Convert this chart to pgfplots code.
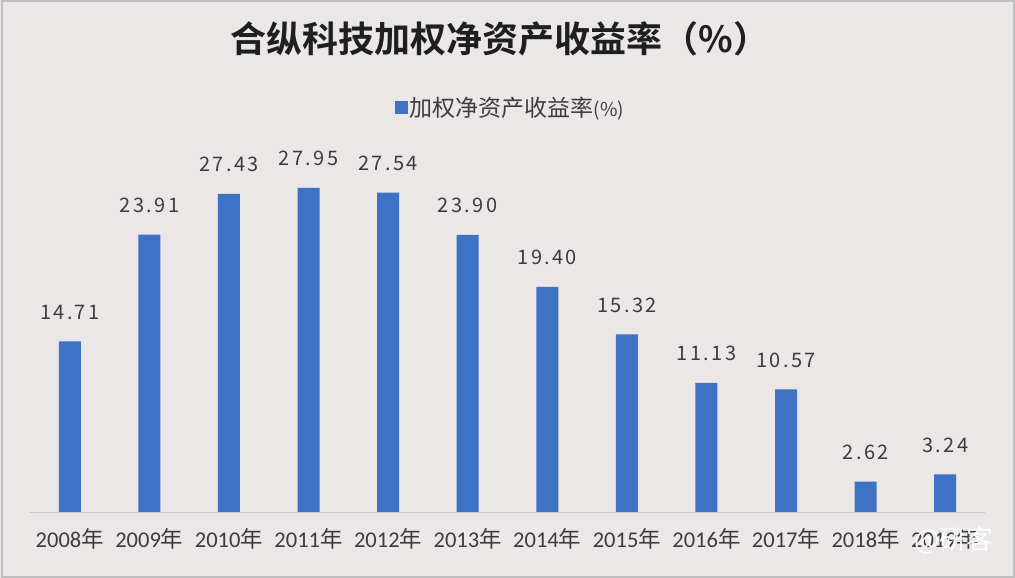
\documentclass[border=0pt]{standalone}
\usepackage{pgfplots}
\pgfplotsset{compat=1.18}
\usetikzlibrary{calc}
\usepackage{fontspec}
\setmainfont{Carlito}
\newfontfamily\cjk{Noto Sans CJK SC}
\newfontfamily\cjknum[LetterSpace=12]{Noto Sans CJK SC}
\newfontfamily\cjkb{Noto Sans CJK SC Bold}
\definecolor{bg}{RGB}{235,231,231}
\definecolor{barblue}{RGB}{61,114,196}
\definecolor{txt}{RGB}{60,60,60}
\pgfdeclarelayer{background}
\pgfsetlayers{background,main}
\begin{document}
\begin{tikzpicture}
\begin{axis}[
  scale only axis, width=955pt, height=348pt,
  xmin=-0.5, xmax=11.5, ymin=0, ymax=30,
  axis y line=none, axis x line*=bottom,
  x axis line style={draw=black!22, line width=0.8pt, -},
  ybar, bar width=22pt,
  xtick={0,...,11}, major tick length=0pt,
  xticklabels={2008{\cjk 年},2009{\cjk 年},2010{\cjk 年},2011{\cjk 年},2012{\cjk 年},2013{\cjk 年},2014{\cjk 年},2015{\cjk 年},2016{\cjk 年},2017{\cjk 年},2018{\cjk 年},2019{\cjk 年}},
  xticklabel style={font=\fontsize{22.5}{26}\selectfont, text=txt, yshift=-13pt},
  /pgf/number format/assume math mode=true,
  nodes near coords={\pgfmathprintnumber[fixed,fixed zerofill,precision=2,assume math mode=true]{\pgfplotspointmeta}},
  every node near coord/.append style={font=\cjknum\fontsize{20}{24}\selectfont, text=txt, anchor=base, yshift=22pt},
  legend style={at={(0.503,1.161)}, anchor=center, draw=none, fill=none, font=\cjk\fontsize{23}{26}\selectfont, text=txt},
  legend image code/.code={\fill[barblue] (-4pt,-6pt) rectangle (9pt,7pt);},
  clip=false,
]
\addplot[fill=barblue, draw=none] coordinates {
(0,14.71) (1,23.91) (2,27.43) (3,27.95) (4,27.54) (5,23.90)
(6,19.40) (7,15.32) (8,11.13) (9,10.57) (10,2.62) (11,3.24)};
\legend{加权净资产收益率{\fontsize{19}{22}\selectfont(\%)}}
\end{axis}
\coordinate (O) at ($(current axis.south west)+(-30pt,-66pt)$);
\begin{pgfonlayer}{background}
\fill[bg] (O) rectangle ++(1015pt,578pt);
\draw[black!25, line width=1.2pt] ($(O)+(2pt,1pt)$) rectangle ($(O)+(1014pt,577pt)$);
\end{pgfonlayer}
\node[font=\cjkb\fontsize{36}{42}\selectfont, text=black!88] at ($(O)+(500pt,539pt)$) {合纵科技加权净资产收益率（\%）};
\node[font=\cjk\fontsize{27}{30}\selectfont, text=white, opacity=0.92] at ($(O)+(954pt,38pt)$) {@研客};
\pgfresetboundingbox
\path[use as bounding box] (O) rectangle ++(1015pt,578pt);
\end{tikzpicture}
\end{document}
